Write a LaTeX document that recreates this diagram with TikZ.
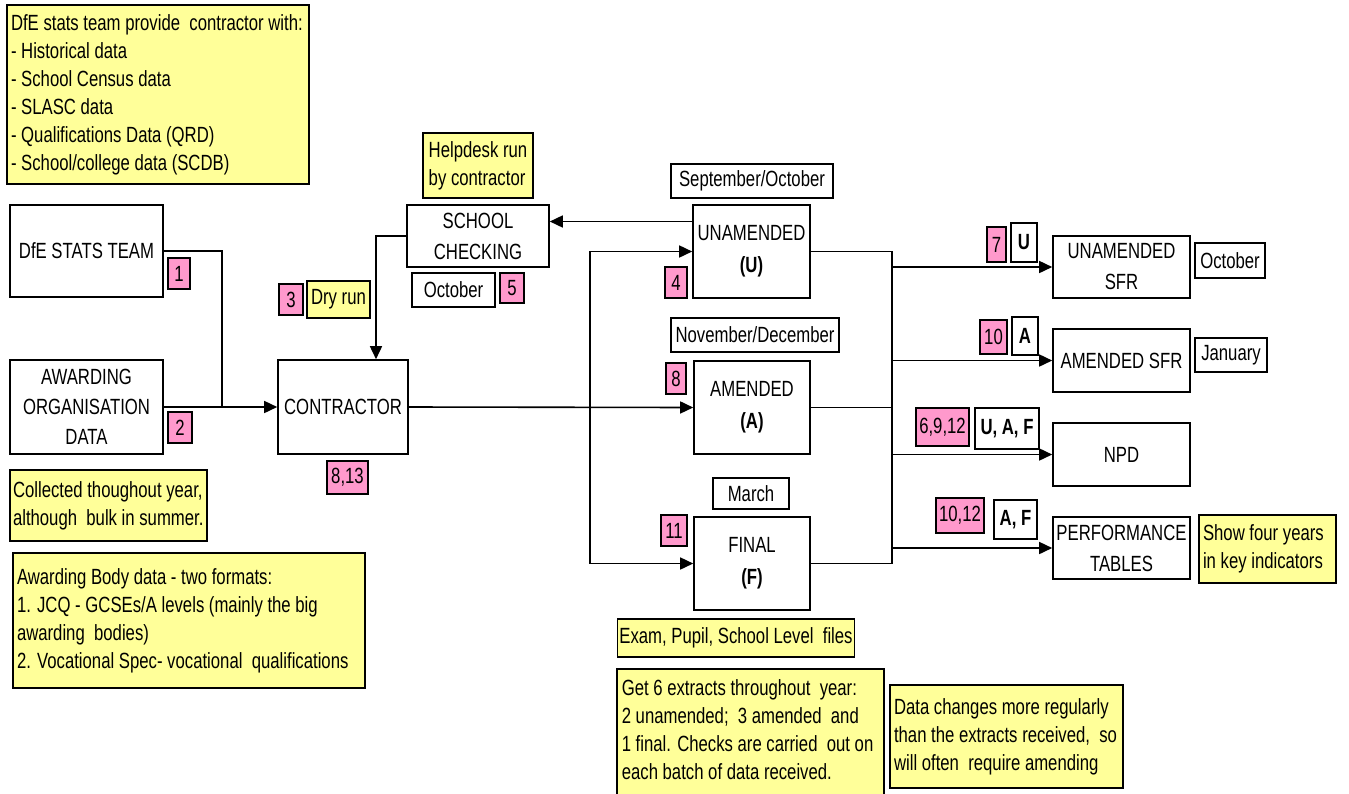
\documentclass[tikz,border=0pt]{standalone}
\usepackage{fontspec}
\setmainfont[FakeStretch=0.76]{Liberation Sans}
\usetikzlibrary{arrows.meta, positioning}
\definecolor{noteyellow}{RGB}{255,255,153}
\definecolor{steppink}{RGB}{255,153,204}
\def\busleft{590}
\def\busright{892}

\begin{document}
\begin{tikzpicture}[x=1pt, y=-1pt, line width=1.6pt,
    every node/.style={font=\fontsize{22}{28}\selectfont, inner sep=2pt},
    box/.style={draw, rectangle, align=flush center, font=\fontsize{22}{32}\selectfont},
    pinkbox/.style={draw, fill=steppink},
    tagbox/.style={draw, fill=white},
    notebox/.style={draw, fill=noteyellow, align=flush left, inner sep=4pt},
    flow/.style={-{Triangle[length=13pt, width=12pt]}}]
    \useasboundingbox (0,0) rectangle (1349,793);
    % Nota in alto
    \node[notebox, text width=294pt, minimum height=179pt] (provide) at (158,94.5)
        {DfE stats team provide\ \ contractor with:\\- Historical data\\- School Census data\\- SLASC data\\- Qualifications Data (QRD)\\- School/college data (SCDB)};
    % Sorgenti
    \node[box, minimum width=153pt, minimum height=92pt] (stats) at (86.5,251) {DfE STATS TEAM};
    \node[pinkbox, minimum width=22pt, minimum height=31pt] (n1) at (179,273.5) {1};
    \node[box, minimum width=153pt, minimum height=94pt, font=\fontsize{22}{30}\selectfont] (awarding) at (86.5,407) {AWARDING\\ORGANISATION\\DATA};
    \node[pinkbox, minimum width=24pt, minimum height=31pt] (n2) at (180,427.5) {2};
    \node[notebox, inner sep=3pt, text width=191pt, minimum height=71pt] (collected) at (108.5,505.5)
        {Collected thoughout year,\\although\ \ bulk in summer.};
    \node[notebox, text width=344pt, minimum height=135pt] (bodies) at (189,620.5)
        {Awarding Body data - two formats:\\1. JCQ - GCSEs/A levels (mainly the big\\awarding\ \ bodies)\\2. Vocational Spec- vocational\ \ qualifications};
    % Contractor
    \node[box, minimum width=130pt, minimum height=94pt] (contractor) at (343,407) {CONTRACTOR};
    \node[pinkbox, minimum width=41pt, minimum height=33pt] (n813) at (347.5,477.5) {8,13};
    \node[pinkbox, minimum width=24pt, minimum height=31pt] (n3) at (291,299.5) {3};
    \node[notebox, inner sep=2pt, minimum width=63pt, minimum height=37pt] (dryrun) at (338.5,299.5) {Dry run};
    % School checking
    \node[notebox, minimum width=110pt, minimum height=65pt] (helpdesk) at (478,165.5) {Helpdesk run\\by contractor};
    \node[box, minimum width=142pt, minimum height=62pt, font=\fontsize{22}{31}\selectfont] (checking) at (478,236) {SCHOOL\\CHECKING};
    \node[tagbox, minimum width=83pt, minimum height=34pt] (octcheck) at (453.5,290) {October};
    \node[pinkbox, minimum width=24pt, minimum height=30pt] (n5) at (512,288) {5};
    % Estrazioni
    \node[tagbox, minimum width=162pt, minimum height=34pt] (septoct) at (752,181) {September/October};
    \node[box, minimum width=117pt, minimum height=93pt] (unamended) at (751.5,251.5) {UNAMENDED\\\textbf{(U)}};
    \node[pinkbox, minimum width=22pt, minimum height=31pt] (n4) at (676,282.5) {4};
    \node[tagbox, minimum width=168pt, minimum height=34pt] (novdec) at (755,335) {November/December};
    \node[box, minimum width=116pt, minimum height=93pt] (amended) at (752,407.5) {AMENDED\\\textbf{(A)}};
    \node[pinkbox, minimum width=20pt, minimum height=31pt] (n8) at (676,378.5) {8};
    \node[tagbox, minimum width=76pt, minimum height=31pt] (march) at (751,493.5) {March};
    \node[box, minimum width=116pt, minimum height=93pt] (final) at (752,563.5) {FINAL\\\textbf{(F)}};
    \node[pinkbox, minimum width=26pt, minimum height=31pt] (n11) at (674,530.5) {11};
    \node[notebox, inner sep=2pt, minimum width=234pt, minimum height=38pt] (files) at (736,638) {Exam, Pupil, School Level\ \ files};
    % Note in basso
    \draw[fill=noteyellow] (617,669) rectangle (884,800);
    \node[align=flush left, text width=259pt, inner sep=4pt, anchor=north west] (extracts) at (617,675)
        {Get 6 extracts throughout\ \ year:\\2 unamended;\ \ 3 amended\ \ and\\1 final. Checks are carried\ \ out on\\each batch of data received.};
    \node[notebox, text width=225pt, minimum height=103pt] (changes) at (1006.5,736.5)
        {Data changes more regularly\\than the extracts received,\ \ so\\will often\ \ require amending};
    % Uscite
    \node[box, minimum width=137pt, minimum height=62pt, font=\fontsize{22}{31}\selectfont] (unsfr) at (1121.5,267) {UNAMENDED\\SFR};
    \node[box, minimum width=137pt, minimum height=63pt] (amsfr) at (1121.5,360.5) {AMENDED SFR};
    \node[box, minimum width=137pt, minimum height=63pt] (npd) at (1121.5,454.5) {NPD};
    \node[box, minimum width=137pt, minimum height=62pt, font=\fontsize{22}{31}\selectfont] (perf) at (1121.5,548) {PERFORMANCE\\TABLES};
    \node[tagbox, minimum width=70pt, minimum height=35pt] (octsfr) at (1230,260.5) {October};
    \node[tagbox, minimum width=72pt, minimum height=34pt] (jan) at (1231,355) {January};
    \node[notebox, text width=129pt, minimum height=68pt] (fouryears) at (1267.5,549) {Show four years\\in key indicators};
    % Etichette delle uscite
    \node[pinkbox, minimum width=19pt, minimum height=35pt] (n7) at (996.5,244.5) {7};
    \node[tagbox, minimum width=26pt, minimum height=39pt] (tu) at (1024,242.5) {\textbf{U}};
    \node[pinkbox, minimum width=27pt, minimum height=34pt] (n10) at (993.5,337) {10};
    \node[tagbox, minimum width=26pt, minimum height=38pt] (ta) at (1025,336) {\textbf{A}};
    \node[pinkbox, minimum width=53pt, minimum height=38pt] (n6912) at (942.5,427) {6,9,12};
    \node[tagbox, minimum width=64pt, minimum height=41pt] (tuaf) at (1007,428.5) {\textbf{U, A, F}};
    \node[pinkbox, minimum width=48pt, minimum height=35pt] (n1012) at (960,515.5) {10,12};
    \node[tagbox, minimum width=43pt, minimum height=39pt] (taf) at (1015.5,519.5) {\textbf{A, F}};
    % Collegamenti verso il contractor
    \coordinate (merge) at (222,407);
    \draw (stats.east) -| (merge);
    \draw[flow] (awarding.east) -- (contractor.west);
    \coordinate (back) at ([yshift=30pt]unamended.west);
    \draw[flow] (back) -- (back -| checking.east);
    \draw[flow] (checking.west) -| ([xshift=33pt]contractor.north);
    % Dal contractor alle estrazioni
    \coordinate (busL) at (\busleft,0);
    \coordinate (busR) at (\busright,0);
    \draw[flow] (contractor.east) -- (amended.west);
    \draw[flow] (final.west -| busL) -- (unamended.west -| busL) -- (unamended.west);
    \draw[flow] (final.west -| busL) -- (final.west);
    % Dalle estrazioni alle uscite
    \draw (unamended.east) -- (unamended.east -| busR) -- (final.east -| busR) -- (final.east);
    \draw (amended.east) -- (amended.east -| busR);
    \foreach \out in {unsfr, amsfr, npd, perf}
        \draw[flow] (\out.west -| busR) -- (\out.west);
\end{tikzpicture}
\end{document}
